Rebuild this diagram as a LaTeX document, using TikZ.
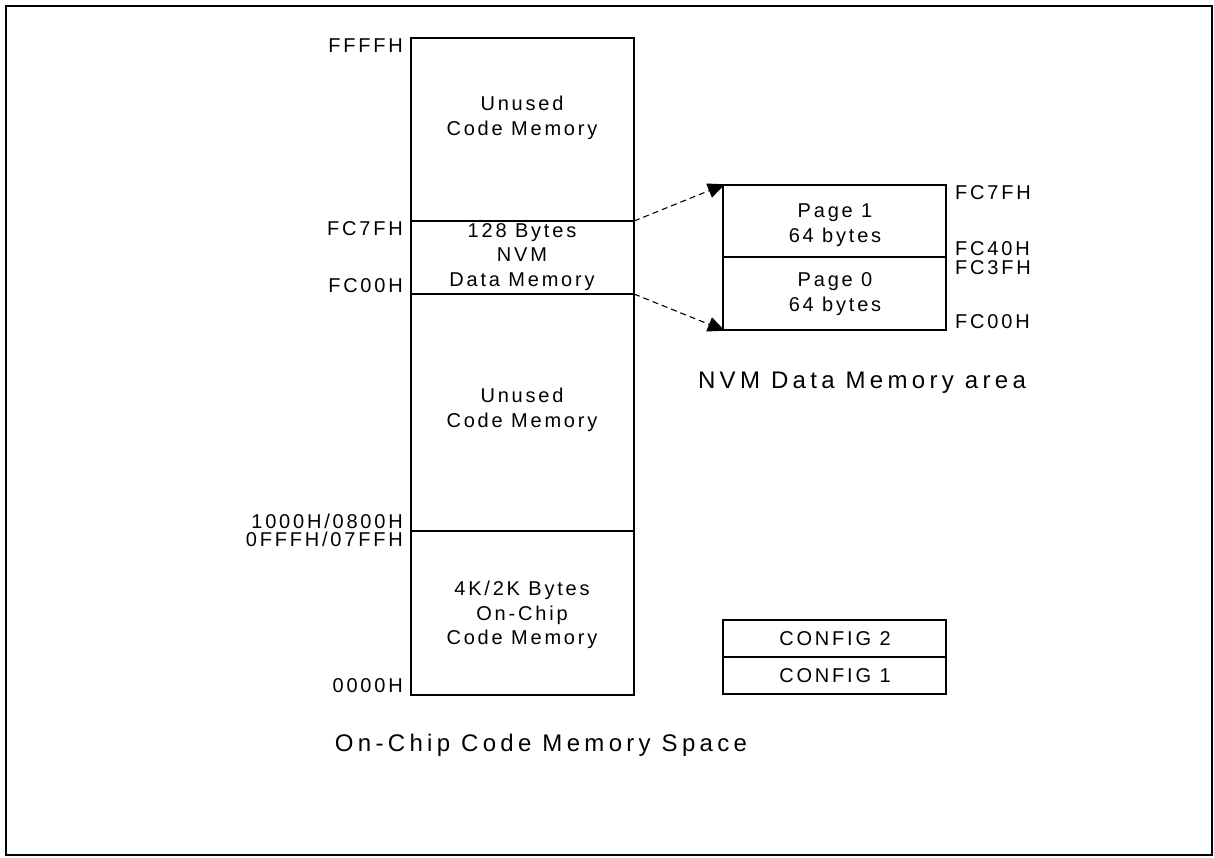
\documentclass[tikz,border=0pt]{standalone}
\usepackage{fontspec}
\setmainfont{Liberation Sans}[LetterSpace=14]
\newfontfamily\capfont{Liberation Sans}[LetterSpace=18]
\usetikzlibrary{arrows.meta}
\tikzset{
  lbl/.style={font=\fontsize{20}{24.5}\selectfont, inner sep=0pt, align=center},
  addr/.style={font=\fontsize{20}{18}\selectfont, inner sep=0pt},
  captext/.style={font=\capfont\fontsize{24}{24}\selectfont, inner sep=0pt},
  box/.style={draw, line width=1.1pt},
  link/.style={dash pattern=on 6pt off 4pt, line width=1.1pt, -{Triangle[length=17pt,width=15pt]}, shorten >=-2pt},
}
\begin{document}
\begin{tikzpicture}[x=1pt,y=-1pt]
\useasboundingbox (0,0) rectangle (1214,857);
\draw[line width=2pt] (6,6) rectangle (1212,855);
% main column
\draw[box] (411,38) rectangle (634,695);
\coordinate (m1l) at (411,221); \coordinate (m1r) at (634,221);
\coordinate (m2l) at (411,294); \coordinate (m2r) at (634,294);
\coordinate (m3l) at (411,531); \coordinate (m3r) at (634,531);
\draw[box] (m1l) -- (m1r);
\draw[box] (m2l) -- (m2r);
\draw[box] (m3l) -- (m3r);
\node[lbl] (u1) at (522,118) {Unused\\Code Memory};
\node[lbl] (nvm) at (522,257) {128 Bytes\\NVM\\Data Memory};
\node[lbl] (u2) at (522,410) {Unused\\Code Memory};
\node[lbl] (onchip) at (522,615) {4K/2K Bytes\\On-Chip\\Code Memory};
% address labels left
\node[addr, anchor=east] (a1) at (403,46) {FFFFH};
\node[addr, anchor=east] (a2) at (403,229) {FC7FH};
\node[addr, anchor=east] (a3) at (403,286) {FC00H};
\node[addr, anchor=east] (a4) at (403,521) {1000H/0800H};
\node[addr, anchor=east] (a5) at (403,539) {0FFFH/07FFH};
\node[addr, anchor=east] (a6) at (403,686) {0000H};
\node[captext] (capA) at (541,745) {On-Chip Code Memory Space};
% NVM data area
\draw[box] (723,185) rectangle (946,330);
\coordinate (p1) at (723,185);
\coordinate (p0) at (723,330);
\draw[box] (723,257) -- (946,257);
\node[lbl] (pg1) at (835,225) {Page 1\\64 bytes};
\node[lbl] (pg0) at (835,294) {Page 0\\64 bytes};
\node[addr, anchor=west] (b1) at (955,193) {FC7FH};
\node[addr, anchor=west] (b2) at (955,249) {FC40H};
\node[addr, anchor=west] (b3) at (955,268) {FC3FH};
\node[addr, anchor=west] (b4) at (955,322) {FC00H};
\node[captext] (capB) at (862,383) {NVM Data Memory area};
\draw[link] (m1r) -- (p1);
\draw[link] (m2r) -- (p0);
% config
\draw[box] (723,620) rectangle (946,694);
\draw[box] (723,657) -- (946,657);
\node[lbl] (c2) at (835,639) {CONFIG 2};
\node[lbl] (c1) at (835,676) {CONFIG 1};
\end{tikzpicture}
\end{document}
